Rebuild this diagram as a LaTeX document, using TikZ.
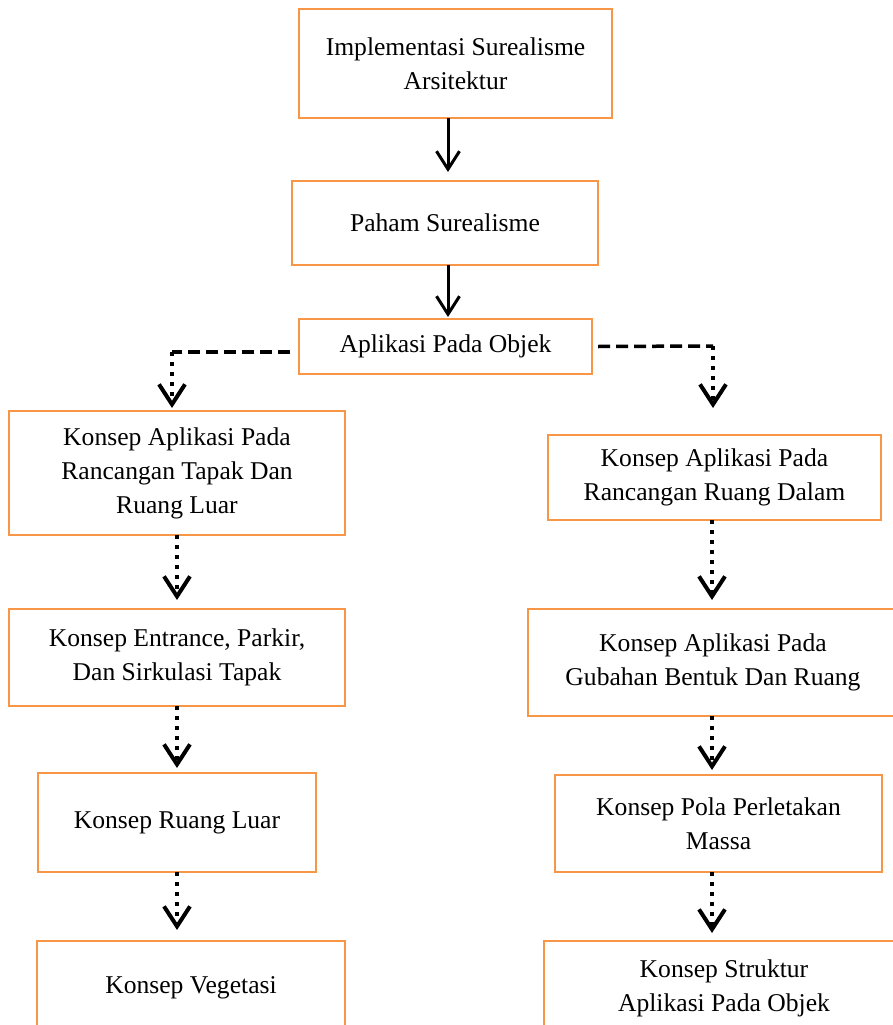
\documentclass[tikz,border=0pt]{standalone}
\usepackage{fontspec}
\setmainfont{Liberation Serif}
\usetikzlibrary{arrows.meta,calc}
\definecolor{boxorange}{RGB}{247,150,70}
\tikzset{
  box/.style={draw=boxorange, line width=1.3pt, align=center, inner sep=0pt, outer sep=0pt,
    font=\fontsize{25.6}{34}\selectfont},
  solidarrow/.style={line width=3pt, -{Straight Barb[length=18pt,width=23pt,line width=3pt]}},
  dashline/.style={line width=3.5pt, dash pattern=on 12pt off 6pt},
  dotarrow/.style={line width=3.5pt, dash pattern=on 4pt off 6pt,
    -{Straight Barb[length=20pt,width=26pt,line width=4pt]}},
}
\begin{document}
\begin{tikzpicture}[x=1pt,y=-1pt]
\useasboundingbox (0,0) rectangle (892,1025);
\node[box, minimum width=313pt, minimum height=109pt] (top) at (455.5,63.5) {Implementasi Surealisme\\Arsitektur};
\node[box, minimum width=306pt, minimum height=84pt] (paham) at (445,223) {Paham Surealisme};
\node[box, minimum width=293pt, minimum height=55pt] (apl) at (445.5,346.5) {Aplikasi Pada Objek};
\node[box, minimum width=336pt, minimum height=124pt] (l1) at (177,473) {Konsep Aplikasi Pada\\Rancangan Tapak Dan\\Ruang Luar};
\node[box, minimum width=333pt, minimum height=85pt] (r1) at (714.5,477.5) {Konsep Aplikasi Pada\\Rancangan Ruang Dalam};
\node[box, minimum width=336pt, minimum height=97pt] (l2) at (177,657.5) {Konsep Entrance, Parkir,\\Dan Sirkulasi Tapak};
\node[box, minimum width=370pt, minimum height=107pt] (r2) at (713,662.5) {Konsep Aplikasi Pada\\Gubahan Bentuk Dan Ruang};
\node[box, minimum width=278pt, minimum height=99pt] (l3) at (177,822.5) {Konsep Ruang Luar};
\node[box, minimum width=327pt, minimum height=97pt] (r3) at (718.5,823.5) {Konsep Pola Perletakan\\Massa};
\node[box, minimum width=308pt, minimum height=94pt] (l4) at (191,988) {Konsep Vegetasi};
\node[box, minimum width=360pt, minimum height=94pt] (r4) at (724,988) {Konsep Struktur\\Aplikasi Pada Objek};

\coordinate (cx) at (448,0);
\coordinate (lx) at (177,0);
\coordinate (rx) at (712,0);
\coordinate (lcorner) at (172,352);
\coordinate (rcorner) at (713,346);

\draw[solidarrow, shorten >=9pt] (top.south -| cx) -- (paham.north -| cx);
\draw[solidarrow, shorten >=2pt] (paham.south -| cx) -- (apl.north -| cx);

\draw[dashline] ($(apl.west)+(-9,5.5)$) -- (lcorner);
\draw[dotarrow, shorten >=3pt] (lcorner) -- (l1.north -| lcorner);
\draw[dashline] ($(apl.east)+(6,0)$) -- (rcorner);
\draw[dotarrow, shorten >=27pt] (rcorner) -- (r1.north -| rcorner);

\draw[dotarrow, shorten >=9pt] (l1.south -| lx) -- (l2.north -| lx);
\draw[dotarrow, shorten >=5pt] (l2.south -| lx) -- (l3.north -| lx);
\draw[dotarrow, shorten >=11pt] (l3.south -| lx) -- (l4.north -| lx);

\draw[dotarrow, shorten >=9pt] (r1.south -| rx) -- (r2.north -| rx);
\draw[dotarrow, shorten >=5pt] (r2.south -| rx) -- (r3.north -| rx);
\draw[dotarrow, shorten >=8pt] (r3.south -| rx) -- (r4.north -| rx);
\end{tikzpicture}
\end{document}
